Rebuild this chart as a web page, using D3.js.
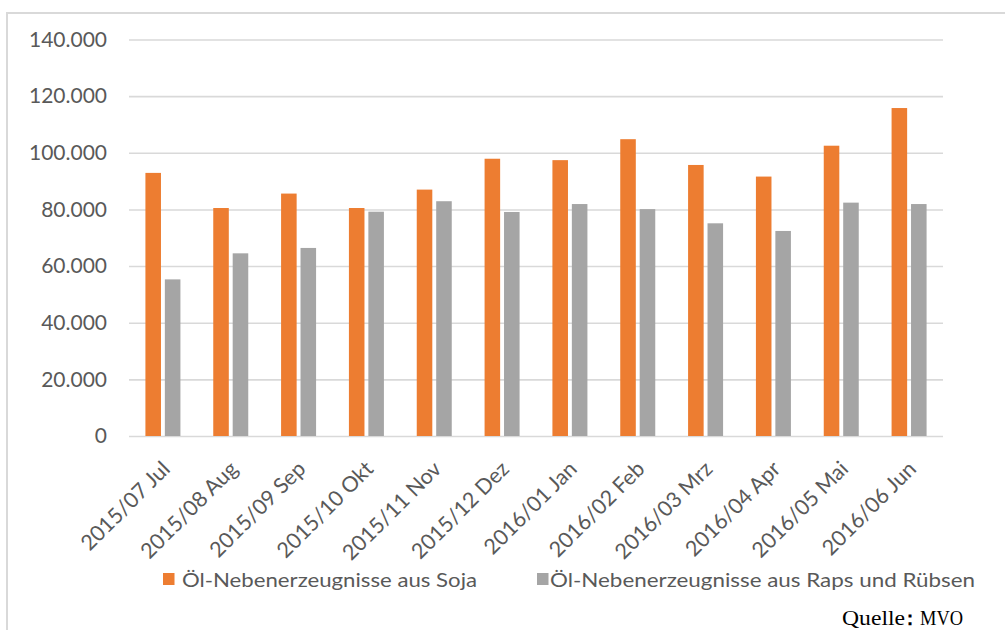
<!DOCTYPE html>
<html>
<head>
<meta charset="utf-8">
<script src="https://cdn.jsdelivr.net/npm/d3@7"></script>
<style>
  html, body { margin: 0; padding: 0; background: #fff; }
  svg { display: block; }
</style>
</head>
<body>
<svg id="chart" width="1005" height="630"></svg>
<script>
const categories = ["2015/07 Jul","2015/08 Aug","2015/09 Sep","2015/10 Okt","2015/11 Nov","2015/12 Dez",
                    "2016/01 Jan","2016/02 Feb","2016/03 Mrz","2016/04 Apr","2016/05 Mai","2016/06 Jun"];
const seriesNames = ["Öl-Nebenerzeugnisse aus Soja", "Öl-Nebenerzeugnisse aus Raps und Rübsen"];
const sojaValues = [92900, 80500, 85600, 80500, 87000, 97900, 97400, 104800, 95700, 91600, 102500, 115800];
const rapsValues = [55300, 64500, 66400, 79200, 82900, 79100, 81900, 80100, 75100, 72400, 82400, 81900];
const yTicks = [0, 20000, 40000, 60000, 80000, 100000, 120000, 140000];
const sourceParts = ["Quelle", "\uFF1A", "MVO"];

const colors = ["#ED7D31", "#A5A5A5"];
const font = "Lato, 'Open Sans', sans-serif";
const textColor = "#595959";

const svg = d3.select("#chart");

// outer frame (left + top)
svg.append("path")
  .attr("d", "M7,630 L7,13 L1005,13")
  .attr("fill", "none").attr("stroke", "#d9d9d9").attr("stroke-width", 2);

const plotLeft = 129, plotRight = 943, plotTop = 39.5, plotBottom = 436;

const x = d3.scaleBand().domain(categories).range([plotLeft, plotRight]).padding(0);
const y = d3.scaleLinear().domain([0, 140000]).range([plotBottom, plotTop]);
const de = d3.formatLocale({decimal: ",", thousands: ".", grouping: [3], currency: ["", "€"]});
const fmt = de.format(",d");

// gridlines
const yAxis = d3.axisLeft(y).tickValues(yTicks).tickSize(-(plotRight - plotLeft)).tickFormat(fmt).tickPadding(22);
const gy = svg.append("g").attr("transform", `translate(${plotLeft},0)`).call(yAxis);
gy.select(".domain").remove();
gy.selectAll(".tick line").attr("stroke", "#d9d9d9").attr("stroke-width", 1.6);
gy.selectAll(".tick text")
  .attr("fill", textColor).style("font-family", font).style("font-size", "21px");

// bars
const data = categories.map((c, i) => ({cat: c, vals: [sojaValues[i], rapsValues[i]]}));
const inner = d3.scaleBand().domain([0, 1]).range([-17.5, 17.5]).paddingInner(0.2).paddingOuter(0);

const groups = svg.append("g").selectAll("g").data(data).join("g")
  .attr("transform", d => `translate(${x(d.cat) + x.bandwidth() / 2},0)`);
groups.selectAll("rect").data(d => d.vals.map((v, k) => ({v, k}))).join("rect")
  .attr("x", d => inner(d.k))
  .attr("width", inner.bandwidth())
  .attr("y", d => y(d.v))
  .attr("height", d => y(0) - y(d.v))
  .attr("fill", d => colors[d.k]);

// x axis labels
const xAxis = d3.axisBottom(x).tickSize(0).tickPadding(0);
const gx = svg.append("g").attr("transform", `translate(0,${plotBottom})`).call(xAxis);
gx.select(".domain").remove();
gx.selectAll(".tick text")
  .attr("fill", textColor).style("font-family", font).style("font-size", "21.5px")
  .attr("text-anchor", "end")
  .attr("transform", "translate(3,29) rotate(-45)")
  .attr("dy", "0.35em").attr("y", 0).attr("x", 0);

// legend
const legend = [
  {name: seriesNames[0], color: colors[0], sx: 163, tx: 182, len: 295},
  {name: seriesNames[1], color: colors[1], sx: 537, tx: 550, len: 425}
];
const lg = svg.append("g");
legend.forEach(l => {
  lg.append("rect").attr("x", l.sx).attr("y", 573).attr("width", 11.5).attr("height", 12).attr("fill", l.color);
  lg.append("text").attr("x", l.tx).attr("y", 587)
    .attr("fill", textColor).style("font-family", font).style("font-size", "20px")
    .attr("textLength", l.len).attr("lengthAdjust", "spacingAndGlyphs")
    .text(l.name);
});

// source
const src = svg.append("text").attr("y", 625)
  .attr("fill", "#000").style("font-family", "'Liberation Serif', 'DejaVu Serif', serif").style("font-size", "20px");
src.append("tspan").attr("x", 842).attr("textLength", 63).attr("lengthAdjust", "spacingAndGlyphs").text(sourceParts[0]);
src.append("tspan").attr("x", 900).style("font-weight", "bold").text(sourceParts[1]);
src.append("tspan").attr("x", 920).attr("textLength", 43).attr("lengthAdjust", "spacingAndGlyphs").text(sourceParts[2]);
</script>
</body>
</html>
